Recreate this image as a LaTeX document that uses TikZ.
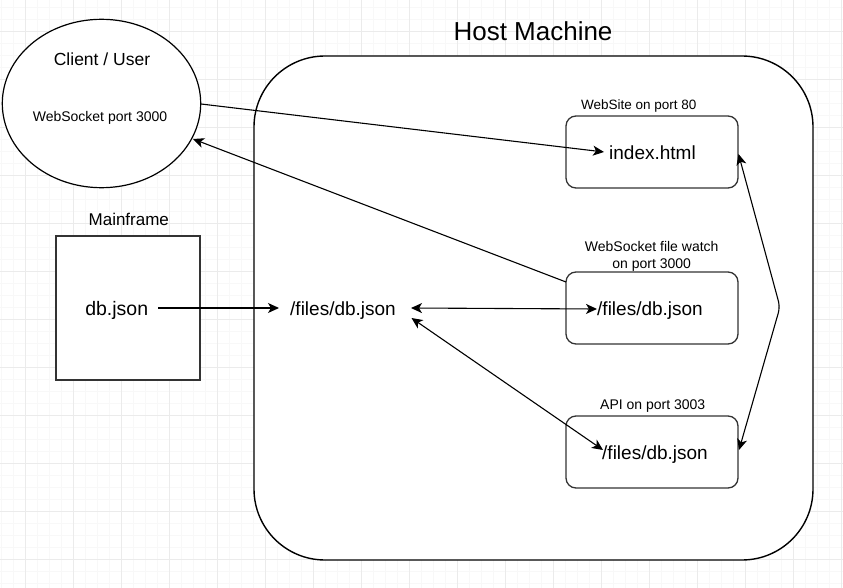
\documentclass[tikz,border=0pt]{standalone}
\usepackage{fontspec}
\setmainfont{Liberation Sans}
\usetikzlibrary{shapes.geometric,arrows.meta}
\definecolor{gridminor}{HTML}{F8F8F8}
\definecolor{gridmajor}{HTML}{EBEBEB}
\definecolor{boxline}{HTML}{333333}
\begin{document}
\begin{tikzpicture}[x=1pt,y=-1pt,
  txt/.style={inner sep=0pt, text depth=0pt, anchor=center},
  fs/.style={font=\fontsize{#1}{#1}\selectfont, text height=#1*0.716pt},
  conn/.style={line width=1.1pt, draw=black},
  arr/.style={conn, -{Stealth[length=11pt,width=10pt,inset=3pt]}},
  darr/.style={conn, {Stealth[length=11pt,width=10pt,inset=3pt]}-{Stealth[length=11pt,width=10pt,inset=3pt]}},
  innerbox/.style={draw=boxline, line width=1.3pt, fill=white, rounded corners=10pt, minimum width=172pt, minimum height=72pt, inner sep=0pt},
]
\useasboundingbox (0,0) rectangle (843,588);
\fill[white] (0,0) rectangle (843,588);
% grid
\foreach \k in {0,...,70} \draw[gridminor, line width=0.8pt] ({1.3+12*\k},0) -- ({1.3+12*\k},588);
\foreach \k in {0,...,48} \draw[gridminor, line width=0.8pt] (0,{7.3+12*\k}) -- (843,{7.3+12*\k});
\foreach \k in {0,...,17} \draw[gridmajor, line width=0.8pt] ({25.3+48*\k},0) -- ({25.3+48*\k},588);
\foreach \k in {0,...,11} \draw[gridmajor, line width=0.8pt] (0,{31.3+48*\k}) -- (843,{31.3+48*\k});

% host machine
\node[draw=black, line width=1.4pt, fill=white, rounded corners=71pt, minimum width=559pt, minimum height=504pt, inner sep=0pt] (host) at (533.5,308) {};
\node[txt, fs=26] (hosttitle) at (533,31.2) {Host Machine};

% client ellipse
\node[draw=black, ellipse, line width=1.2pt, fill=white, minimum width=198.4pt, minimum height=168.4pt, inner sep=0pt] (client) at (101.5,103.5) {};
\node[txt, fs=17.5] (clienttxt) at (102,59.5) {Client / User};
\node[txt, fs=14] (clientws) at (100,116.2) {WebSocket port 3000};

% mainframe
\node[draw=boxline, line width=1.3pt, fill=white, minimum width=144pt, minimum height=144pt, inner sep=0pt] (mainframe) at (128,308) {};
\node[txt, fs=17] (mainlabel) at (128.8,219.2) {Mainframe};
\node[txt, fs=19.5] (dbtxt) at (116.7,308.3) {db.json};

% central file
\node[txt, fs=19] (files) at (343,309) {/files/db.json};

% inner boxes
\node[innerbox] (webbox) at (652,152) {};
\node[txt, fs=13.5] (weblabel) at (638.8,104.3) {WebSite on port 80};
\node[txt, fs=19] (indextxt) at (652.5,152.2) {index.html};

\node[innerbox] (wsbox) at (652,308) {};
\node[txt, fs=14] (wslabel1) at (651.7,246) {WebSocket file watch};
\node[txt, fs=14] (wslabel2) at (651.7,263.3) {on port 3000};
\node[txt, fs=19] (wstxt) at (650,308.8) {/files/db.json};

\node[innerbox] (apibox) at (652,452) {};
\node[txt, fs=14] (apilabel) at (652.7,404.3) {API on port 3003};
\node[txt, fs=19] (apitxt) at (655,453) {/files/db.json};

% connector end points
\coordinate (dbout) at (158,308);
\coordinate (filesin) at (279,308);
\coordinate (filesr) at (411,308);
\coordinate (filesr2) at (411.5,318);
\coordinate (wsin) at (597,309);
\coordinate (apiin) at (603,450);
\coordinate (clientout) at (201,104);
\coordinate (indexin) at (604,152);
\coordinate (wscorner) at (566,282);
\coordinate (clientin) at (193,139);
\coordinate (indexr) at (738.5,154);
\coordinate (bend) at (780,307);
\coordinate (apir) at (739,450);

% connectors
\draw[arr] (dbout) -- (filesin);
\draw[darr] (filesr) -- (wsin);
\draw[darr] (filesr2) -- (apiin);
\draw[arr] (clientout) -- (indexin);
\draw[arr] (wscorner) -- (clientin);
\draw[darr, rounded corners=6pt] (indexr) -- (bend) -- (apir);
\end{tikzpicture}
\end{document}
